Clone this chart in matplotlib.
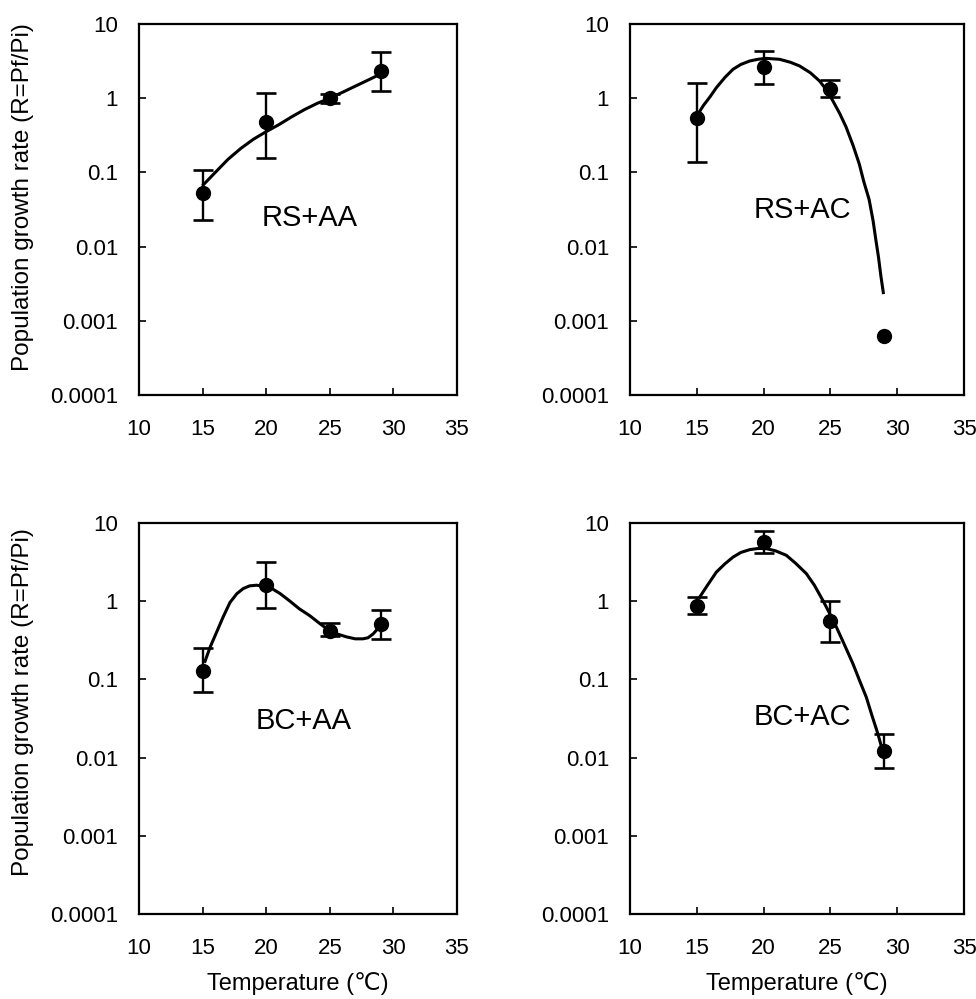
import numpy as np
import matplotlib
matplotlib.use("Agg")
import matplotlib.pyplot as plt

plt.rcParams['font.family'] = ['Liberation Sans', 'DejaVu Sans']

# measured temperatures (same for all four panels)
temps = [15, 20, 25, 29]

# panel data: mean, upper and lower end of the error bar (nan = no bar)
rs_aa_mean = [0.053, 0.48, 1.0, 2.35]
rs_aa_up = [0.108, 1.16, 1.15, 4.15]
rs_aa_lo = [0.023, 0.155, 0.85, 1.26]

rs_ac_mean = [0.54, 2.64, 1.35, 0.00062]
rs_ac_up = [1.58, 4.3, 1.75, np.nan]
rs_ac_lo = [0.139, 1.55, 1.05, np.nan]

bc_aa_mean = [0.128, 1.6, 0.42, 0.51]
bc_aa_up = [0.25, 3.13, 0.52, 0.77]
bc_aa_lo = [0.069, 0.83, 0.36, 0.33]

bc_ac_mean = [0.88, 5.7, 0.56, 0.0123]
bc_ac_up = [1.13, 7.9, 1.02, 0.020]
bc_ac_lo = [0.68, 4.1, 0.30, 0.0073]

# fitted trend curves
rs_aa_fit_x = [15.06, 16, 17, 18, 19, 20, 21, 22, 23, 24, 25, 26, 27, 28, 28.95]
rs_aa_fit_y = [0.068, 0.1, 0.15, 0.21, 0.28, 0.354, 0.44, 0.56, 0.7, 0.85, 1.0,
               1.2, 1.45, 1.75, 2.1]

rs_ac_fit_x = [15.1, 15.5, 16, 16.47, 17.1, 17.71, 18.3, 18.96, 19.6, 20.2, 21.2,
               22, 22.69, 23.5, 24.18, 24.7, 25.17, 25.7, 26.17, 26.7, 27.16, 27.5,
               27.9, 28.2, 28.4, 28.6, 28.78, 28.96]
rs_ac_fit_y = [0.615, 0.8, 1.05, 1.39, 1.9, 2.45, 2.85, 3.17, 3.35, 3.44, 3.34,
               3.05, 2.72, 2.2, 1.71, 1.3, 0.93, 0.62, 0.41, 0.23, 0.13, 0.075,
               0.043, 0.022, 0.0124, 0.0072, 0.004, 0.0024]

bc_aa_fit_x = [15.19, 15.6, 16.1, 16.6, 17.15, 17.7, 18.2, 18.7, 19.25, 20.3,
               21.1, 21.87, 22.6, 23.44, 24.2, 24.96, 25.6, 26.3, 27.0, 27.6, 28.0,
               28.4, 28.75, 29.0]
bc_aa_fit_y = [0.17, 0.26, 0.40, 0.62, 0.96, 1.25, 1.45, 1.57, 1.6, 1.5,
               1.25, 1.0, 0.8, 0.65, 0.52, 0.42, 0.38, 0.35, 0.33, 0.33, 0.34,
               0.38, 0.44, 0.51]

bc_ac_fit_x = [15.22, 15.8, 16.47, 17.1, 17.72, 18.3, 18.96, 19.6, 20.2, 20.9, 21.7,
               22.4, 23.2, 23.8, 24.44, 24.9, 25.44, 26.0, 26.69, 27.2, 27.69, 28.1,
               28.56, 28.9]
bc_ac_fit_y = [1.13, 1.6, 2.36, 3.0, 3.67, 4.2, 4.56, 4.72, 4.7, 4.4, 3.86,
               3.05, 2.25, 1.6, 1.02, 0.72, 0.47, 0.29, 0.158, 0.095, 0.059, 0.035,
               0.020, 0.0123]

panels = [
    ("RS+AA", rs_aa_mean, rs_aa_up, rs_aa_lo, rs_aa_fit_x, rs_aa_fit_y, (0.538, 0.477)),
    ("RS+AC", rs_ac_mean, rs_ac_up, rs_ac_lo, rs_ac_fit_x, rs_ac_fit_y, (0.516, 0.499)),
    ("BC+AA", bc_aa_mean, bc_aa_up, bc_aa_lo, bc_aa_fit_x, bc_aa_fit_y, (0.517, 0.493)),
    ("BC+AC", bc_ac_mean, bc_ac_up, bc_ac_lo, bc_ac_fit_x, bc_ac_fit_y, (0.515, 0.503)),
]

# axes rectangles in figure fractions (left, bottom, width, height)
rects = [
    [0.1424, 0.6046, 0.3258, 0.3714],
    [0.6455, 0.6046, 0.3422, 0.3714],
    [0.1424, 0.0851, 0.3258, 0.3914],
    [0.6455, 0.0851, 0.3422, 0.3914],
]
ylabel_y = [0.534, None, 0.542, None]

ytick_vals = [0.0001, 0.001, 0.01, 0.1, 1, 10]
ytick_labels = ["0.0001", "0.001", "0.01", "0.1", "1", "10"]
xtick_vals = [10, 15, 20, 25, 30, 35]

fig = plt.figure(figsize=(9.76, 9.99), dpi=100)

for i, (name, mean, up, lo, fx, fy, lpos) in enumerate(panels):
    ax = fig.add_axes(rects[i])
    ax.set_yscale('log')
    ax.set_xlim(10, 35)
    ax.set_ylim(0.0001, 10)

    ax.plot(fx, fy, color='black', lw=2.2, zorder=2, solid_joinstyle='round')

    mean = np.array(mean)
    up = np.array(up)
    lo = np.array(lo)
    t = np.array(temps)
    has_err = ~np.isnan(up)
    yerr = [mean[has_err] - lo[has_err], up[has_err] - mean[has_err]]
    ax.errorbar(t[has_err], mean[has_err], yerr=yerr, fmt='none', ecolor='black',
                elinewidth=1.7, capsize=7, capthick=1.9, zorder=3)
    ax.plot(t, mean, 'o', color='black', markersize=10, zorder=4)

    ax.text(lpos[0], lpos[1], name, transform=ax.transAxes, ha='center', va='center',
            fontsize=21)

    ax.set_yticks(ytick_vals)
    ax.set_yticklabels(ytick_labels)
    ax.yaxis.set_minor_locator(matplotlib.ticker.NullLocator())
    ax.set_xticks(xtick_vals)
    ax.set_xticklabels([str(v) for v in xtick_vals])
    ax.tick_params(direction='in', length=5, width=1.2, labelsize=16)
    ax.tick_params(axis='x', pad=17)
    ax.tick_params(axis='y', pad=15)
    for s in ax.spines.values():
        s.set_linewidth(1.6)

    if i % 2 == 0:
        ax.set_ylabel("Population growth rate (R=Pf/Pi)", fontsize=17.5)
        ax.yaxis.set_label_coords(-0.33, ylabel_y[i])
    if i >= 2:
        ax.set_xlabel("Temperature (\u2103)", fontsize=17, labelpad=10)

fig.savefig("out.png", dpi=100)
plt.close('all')
